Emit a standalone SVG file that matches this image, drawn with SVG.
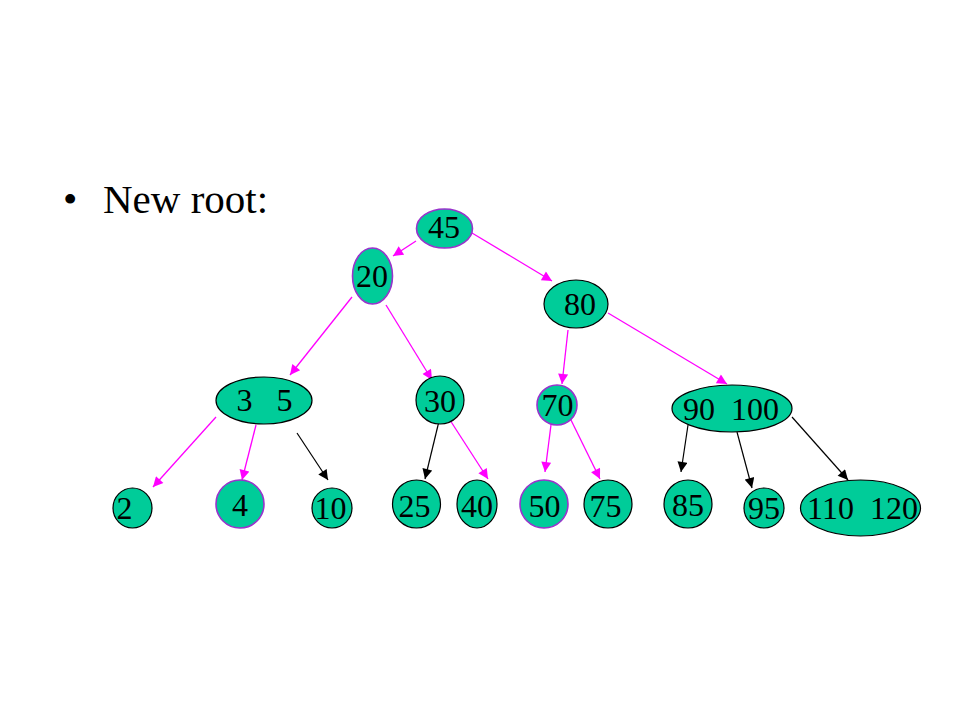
<svg xmlns="http://www.w3.org/2000/svg" width="960" height="720" viewBox="0 0 960 720">
<style>
.n ellipse{fill:#00CC99;stroke:#000;stroke-width:1.2}
.n.p ellipse{stroke:#9933CC;stroke-width:1.6}
.n text{font-family:"Liberation Serif","Times New Roman",serif;font-size:32px;fill:#000;text-anchor:middle;white-space:pre}
.m{stroke:#FF00FF;stroke-width:1.3;fill:none;marker-end:url(#am)}
.k{stroke:#000;stroke-width:1.2;fill:none;marker-end:url(#ak)}
.t{font-family:"Liberation Serif","Times New Roman",serif;font-size:41px;fill:#000}
</style>
<defs>
<marker id="am" viewBox="0 0 10 10" refX="10" refY="5" markerWidth="12" markerHeight="10" markerUnits="userSpaceOnUse" orient="auto"><path d="M0,0L10,5L0,10z" fill="#FF00FF"/></marker>
<marker id="ak" viewBox="0 0 10 10" refX="10" refY="5" markerWidth="12" markerHeight="10" markerUnits="userSpaceOnUse" orient="auto"><path d="M0,0L10,5L0,10z" fill="#000"/></marker>
</defs>
<rect width="960" height="720" fill="#fff"/>
<g id="title">
<text class="t" x="63" y="213">•</text>
<text class="t" x="103" y="213">New root:</text>
</g>
<g id="connectors">
<line class="m" x1="416" y1="241" x2="393" y2="256"/>
<line class="m" x1="472" y1="233" x2="552" y2="281"/>
<line class="m" x1="352" y1="297" x2="290" y2="375"/>
<line class="m" x1="386" y1="305" x2="432" y2="380"/>
<line class="m" x1="568" y1="330" x2="562" y2="384"/>
<line class="m" x1="608" y1="313" x2="727" y2="384"/>
<line class="m" x1="216" y1="417" x2="153" y2="487"/>
<line class="m" x1="256" y1="425" x2="242" y2="480"/>
<line class="k" x1="297" y1="433" x2="328" y2="480"/>
<line class="k" x1="440" y1="417" x2="425" y2="479"/>
<line class="m" x1="448" y1="417" x2="488" y2="479"/>
<line class="m" x1="552" y1="417" x2="545" y2="472"/>
<line class="m" x1="570" y1="418" x2="600" y2="479"/>
<line class="k" x1="688" y1="425" x2="681" y2="472"/>
<line class="k" x1="737" y1="432" x2="752" y2="488"/>
<line class="k" x1="792" y1="417" x2="848" y2="480"/>
</g>
<g id="n45" class="n p"><ellipse cx="444.5" cy="228.5" rx="28" ry="19.5"/><text x="444" y="238">45</text></g>
<g id="n20" class="n p"><ellipse cx="372.5" cy="276" rx="20" ry="28"/><text x="372" y="287">20</text></g>
<g id="n80" class="n"><ellipse cx="576" cy="304" rx="32" ry="24"/><text x="580" y="315">80</text></g>
<g id="n35" class="n"><ellipse cx="264" cy="400.5" rx="48" ry="23.5"/><text x="264.5" y="411">3   5</text></g>
<g id="n30" class="n"><ellipse cx="440" cy="400" rx="24" ry="24"/><text x="440" y="411.5">30</text></g>
<g id="n70" class="n p"><ellipse cx="557" cy="405" rx="20" ry="20"/><text x="557.5" y="415.5">70</text></g>
<g id="n90100" class="n"><ellipse cx="732" cy="408.5" rx="60" ry="23.5"/><text x="731" y="420">90  100</text></g>
<g id="n2" class="n"><ellipse cx="132.5" cy="508" rx="19.5" ry="20"/><text x="124.5" y="519">2</text></g>
<g id="n4" class="n p"><ellipse cx="240" cy="504" rx="24" ry="24"/><text x="240" y="515.5">4</text></g>
<g id="n10" class="n"><ellipse cx="332" cy="508" rx="20" ry="20"/><text x="330.5" y="519">10</text></g>
<g id="n25" class="n"><ellipse cx="416.5" cy="504" rx="24" ry="24"/><text x="414.5" y="516.5">25</text></g>
<g id="n40" class="n"><ellipse cx="477" cy="504" rx="20" ry="24"/><text x="477" y="516.5">40</text></g>
<g id="n50" class="n p"><ellipse cx="544" cy="504" rx="24" ry="24"/><text x="544.5" y="516.5">50</text></g>
<g id="n75" class="n"><ellipse cx="608" cy="504" rx="24" ry="24"/><text x="605.5" y="516.5">75</text></g>
<g id="n85" class="n"><ellipse cx="688" cy="504" rx="24" ry="24"/><text x="688" y="515.5">85</text></g>
<g id="n95" class="n"><ellipse cx="764" cy="508" rx="20" ry="20"/><text x="764" y="519">95</text></g>
<g id="n110120" class="n"><ellipse cx="860.5" cy="508" rx="60" ry="28"/><text x="862.5" y="519">110  120</text></g>
</svg>
